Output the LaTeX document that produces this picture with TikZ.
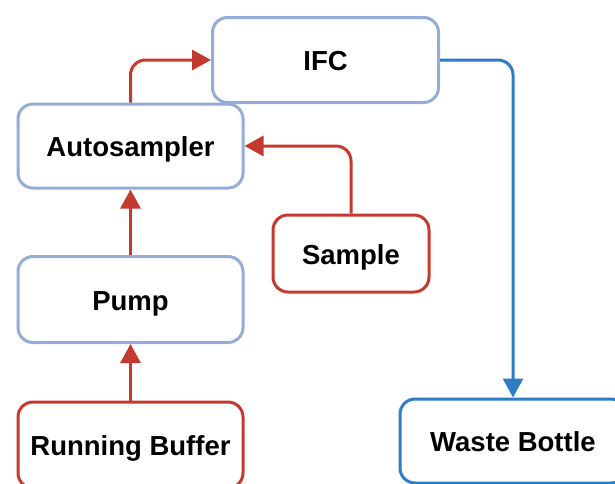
\documentclass[tikz,border=0pt]{standalone}
\usepackage{fontspec}
\setmainfont{Liberation Sans}
\usetikzlibrary{arrows.meta}
\definecolor{unitblue}{HTML}{94ADD6}
\definecolor{fluidred}{HTML}{C53A2F}
\definecolor{wasteblue}{HTML}{2E7CC4}
\begin{document}
\begin{tikzpicture}[x=1pt,y=-1pt,
  box/.style={draw, rounded corners=15pt, line width=3pt, fill=white,
    font=\fontsize{27.5}{30}\selectfont\bfseries, align=center, inner sep=0pt,
    text height=21pt, text depth=0pt},
  unit/.style={box, draw=unitblue},
  source/.style={box, draw=fluidred},
  sink/.style={box, draw=wasteblue},
  flow/.style={line width=3pt, rounded corners=15pt,
    -{Triangle[length=19pt,width=20pt]}},
]
\useasboundingbox (0,0) rectangle (615,483);
% instrument units
\node[unit, minimum width=226pt, minimum height=85pt] (ifc) at (325.5,60) {IFC};
\node[unit, minimum width=225pt, minimum height=84pt] (auto) at (130.5,146) {Autosampler};
\node[unit, minimum width=225pt, minimum height=86pt] (pump) at (130.5,299.5) {Pump};
% liquids in and out
\node[source, minimum width=156pt, minimum height=77pt] (sample) at (351,253.5) {Sample};
\node[source, minimum width=225pt, minimum height=86pt] (buffer) at (130.5,445) {Running Buffer};
\node[sink, minimum width=226pt, minimum height=84pt] (waste) at (513,441) {Waste Bottle};
% flow path
\draw[flow, fluidred] (buffer.north) -- (pump.south);
\draw[flow, fluidred] (pump.north) -- (auto.south);
\draw[flow, fluidred] (sample.north) |- (auto.east);
\draw[flow, fluidred] (auto.north) |- (ifc.west);
\draw[flow, wasteblue] (ifc.east) -| (waste.north);
\end{tikzpicture}
\end{document}
